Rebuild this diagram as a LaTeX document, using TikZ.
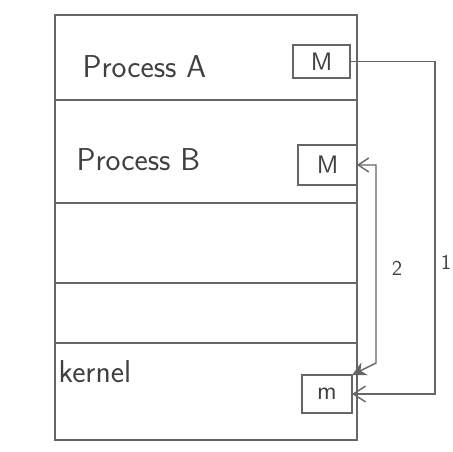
\documentclass[tikz,border=0pt]{standalone}
\usetikzlibrary{arrows.meta}

\begin{document}
\begin{tikzpicture}[
    x=0.02cm, y=-0.02cm,
    line width=0.8pt,
    every node/.style={text=black!75},
    rowbox/.style={draw=black!60, minimum width=6.04cm, inner sep=0pt, outer sep=0pt},
    msgbox/.style={draw=black!60, inner sep=0pt, outer sep=0pt, font=\sffamily\Large},
    rowtext/.style={anchor=west, font=\sffamily\fontsize{18}{22}\selectfont},
    link/.style={draw=black!60}
]
    \useasboundingbox (0,0) rectangle (453,452);

    % --- MEMORY ROWS ---
    \node[rowbox, minimum height=1.70cm] (procA) at (206,57.5) {};
    \node[rowbox, minimum height=2.06cm] (procB) at (206,151.5) {};
    \node[rowbox, minimum height=1.60cm] (free1) at (206,243) {};
    \node[rowbox, minimum height=1.20cm] (free2) at (206,313) {};
    \node[rowbox, minimum height=1.94cm] (kernel) at (206,391.5) {};

    % row titles
    \node[rowtext] (procAtxt) at (76,67) {Process A};
    \node[rowtext] (procBtxt) at (70,160) {Process B};
    \node[rowtext] (kerneltxt) at (52,372) {kernel};

    % --- MESSAGE BOXES ---
    \node[msgbox, minimum width=1.14cm, minimum height=0.66cm] (mA) at (321.5,61.5) {M};
    \node[msgbox, minimum width=1.18cm, minimum height=0.80cm] (mB) at (327.5,165) {M};
    \node[msgbox, minimum width=1.00cm, minimum height=0.76cm] (mK) at (327,394) {m};

    % --- COPIES ---
    \draw[link, -{Straight Barb[length=7pt, width=9pt]}]
        (mA.east) -- ++(85,0) |- (mK.east);
    \draw[link, {Stealth[length=8pt, width=8pt]}-{Straight Barb[length=6pt, width=8pt]}]
        (mK.north east) -- ++(24,-12) |- (mB.east);

    \node[font=\sffamily\large] (lbl2) at (397,268) {2};
    \node[font=\sffamily\large] (lbl1) at (446,262) {1};

\end{tikzpicture}
\end{document}
